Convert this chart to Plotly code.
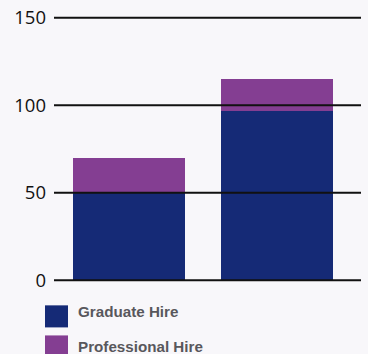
import plotly.graph_objects as go

# Stacked hire counts for the two groups
groups = ["Group 1", "Group 2"]
graduate_hire = [50, 97]
professional_hire = [20, 18]
series_names = ["Graduate Hire", "Professional Hire"]
y_ticks = [0, 50, 100, 150]

BLUE = "#152a76"
PURPLE = "#843e92"
BG = "#f8f7fa"

W, H = 368, 354
ML, MR, MT, MB = 54, 7, 16.3, 72.3
plot_w = W - ML - MR
plot_h = H - MT - MB


def px_x(px):
    return (px - ML) / plot_w


def px_y(py):
    return (H - MB - py) / plot_h


fig = go.Figure()
x_pos = list(range(len(groups)))
fig.add_trace(go.Bar(x=x_pos, y=graduate_hire, name=series_names[0],
                     marker=dict(color=BLUE, line=dict(width=0)), width=0.757))
fig.add_trace(go.Bar(x=x_pos, y=professional_hire, name=series_names[1],
                     marker=dict(color=PURPLE, line=dict(width=0)), width=0.757))

# Horizontal rules at each tick, drawn above the bars
shapes = []
for v in y_ticks:
    shapes.append(dict(type="line", xref="paper", x0=0, x1=1, yref="y", y0=v, y1=v,
                       line=dict(color="#111111", width=2), layer="above"))

# Hand-built legend with large square swatches
annotations = []
for i, (name, col) in enumerate(zip(series_names, [BLUE, PURPLE])):
    top = 305 + 30 * i
    shapes.append(dict(type="rect", xref="paper", yref="paper",
                       x0=px_x(45), x1=px_x(68), y0=px_y(top), y1=px_y(top + 22),
                       fillcolor=col, line=dict(width=0), layer="above"))
    annotations.append(dict(text=name, xref="paper", yref="paper",
                            x=px_x(76), y=px_y(311.5 + 35 * i), xanchor="left", yanchor="middle",
                            showarrow=False,
                            font=dict(family="Liberation Sans", size=15.2, color="#58575c",
                                      weight="bold")))

fig.update_layout(
    barmode="stack",
    width=W, height=H, autosize=False,
    margin=dict(l=ML, r=MR, t=MT, b=MB, pad=0),
    paper_bgcolor=BG, plot_bgcolor=BG,
    showlegend=False,
    shapes=shapes, annotations=annotations,
    xaxis=dict(range=[-0.507, 1.568], showticklabels=False, showgrid=False,
               zeroline=False, showline=False, ticks="", automargin=False),
    yaxis=dict(range=[-1, 151], tickvals=y_ticks, showgrid=False, zeroline=False,
               showline=False, ticks="", ticklabelstandoff=7, automargin=False,
               tickfont=dict(family="Open Sans", size=18.5, color="#111111")),
)

fig.write_html("out.html")
